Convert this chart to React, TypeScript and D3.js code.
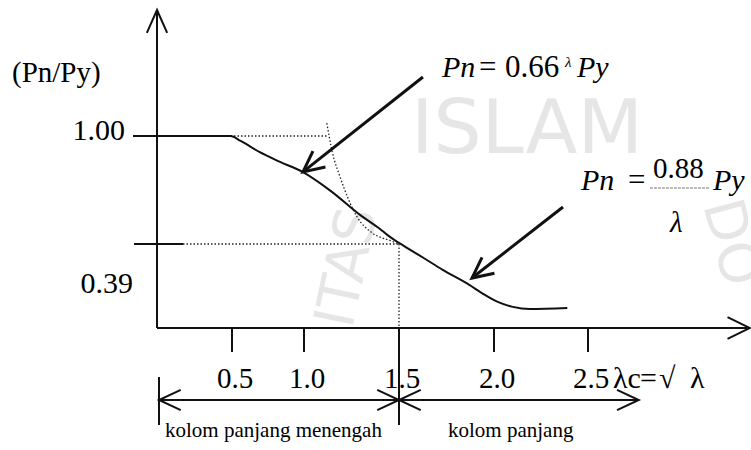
import React from 'react'
import * as d3 from 'd3'

// axis stops (lambda_c along x, Pn/Py along y)
const lambdaStops = [0, 0.5, 1.0, 1.5, 2.0, 2.5]
const ratioStops = [0, 0.39, 1.0]
const xTickValues = [0.5, 1.0, 1.5, 2.0, 2.5]
const xTickLabels = ['0.5', '1.0', '1.5', '2.0', '2.5']
const yTickLabels = ['1.00', '0.39']

// column curve (traced)
const curveLambda = [0, 0.49, 0.56, 0.69, 0.83, 0.99, 1.14, 1.3, 1.4, 1.44, 1.5, 1.63, 1.73, 1.87, 1.94, 2.02, 2.1, 2.19, 2.39]
const curveRatio = [1.0, 1.0, 0.972, 0.91, 0.855, 0.797, 0.69, 0.55, 0.475, 0.44, 0.396, 0.325, 0.27, 0.2, 0.16, 0.121, 0.098, 0.088, 0.093]

// dotted elastic curve
const eulerLambda = [1.12, 1.15, 1.19, 1.28, 1.36, 1.46, 1.5]
const eulerRatio = [1.073, 0.904, 0.768, 0.542, 0.452, 0.407, 0.39]

// annotation arrows [tail, tip] in data units
const annoTail = [[1.626, 1.333], [2.367, 0.599]]
const annoTip = [[0.993, 0.797], [1.884, 0.232]]

// ranges at the bottom
const zoneStart = [0, 1.5]
const zoneEnd = [1.5, 2.77]
const zoneLabels = ['kolom panjang menengah', 'kolom panjang']

const serif = '"Liberation Serif", "Times New Roman", serif'

function head(tx: number, ty: number, fx: number, fy: number, len = 24, spread = 25) {
  const a = Math.atan2(fy - ty, fx - tx)
  const s = (spread * Math.PI) / 180
  const p1 = [tx + len * Math.cos(a - s), ty + len * Math.sin(a - s)]
  const p2 = [tx + len * Math.cos(a + s), ty + len * Math.sin(a + s)]
  return `M${p1[0]},${p1[1]}L${tx},${ty}L${p2[0]},${p2[1]}`
}

function Watermark() {
  // faint logo text behind the chart
  const st = { fontFamily: '"DejaVu Sans", sans-serif', fontWeight: 400, fill: '#e6e6e6' }
  return (
    <g>
      <text x={527} y={153} textAnchor="middle" style={{ ...st, fontSize: 74 }} textLength={232} lengthAdjust="spacingAndGlyphs">ISLAM</text>
      <text transform="translate(352,330) rotate(-78)" style={{ ...st, fontSize: 56 }}>ITAS</text>
      <text transform="translate(703,205) rotate(75)" style={{ ...st, fontSize: 56 }}>DO</text>
    </g>
  )
}

export default function App() {
  const x = d3.scaleLinear().domain(lambdaStops).range([157, 232, 304, 399, 494, 588])
  const y = d3.scaleLinear().domain(ratioStops).range([328, 244, 136])

  const x0 = x(0)
  const y0 = y(0)

  const curve = d3.line<number>()
    .x((_, i) => x(curveLambda[i]))
    .y((_, i) => y(curveRatio[i]))
    .curve(d3.curveMonotoneX)
  const euler = d3.line<number>()
    .x((_, i) => x(eulerLambda[i]))
    .y((_, i) => y(eulerRatio[i]))
    .curve(d3.curveMonotoneX)

  const dotted = { stroke: '#222', strokeWidth: 1.3, strokeDasharray: '1.5 2', fill: 'none' }
  const ink = '#111'
  const dimY = 400
  const t = (size: number, italic = false) => ({ fontFamily: serif, fontSize: size, fontStyle: italic ? 'italic' : 'normal' })

  return (
    <svg width={751} height={450} style={{ position: 'absolute', left: 0, top: 0, background: '#fff' }}>
      <Watermark />

      {/* axes */}
      <line x1={x0} y1={10} x2={x0} y2={y0} stroke={ink} strokeWidth={2} />
      <path d={head(x0, 10, x0, 60, 25, 24)} stroke={ink} strokeWidth={2} fill="none" />
      <line x1={x0} y1={y0} x2={750} y2={y0} stroke={ink} strokeWidth={2} />
      <path d={head(750, y0, 700, y0, 25, 26)} stroke={ink} strokeWidth={2} fill="none" />

      {/* y ticks */}
      <line x1={x0 - 24} y1={y(1)} x2={x0} y2={y(1)} stroke={ink} strokeWidth={2} />
      <line x1={x0 - 23} y1={y(0.39)} x2={x0 + 26} y2={y(0.39)} stroke={ink} strokeWidth={2} />
      <line x1={x0 + 26} y1={y(0.39)} x2={x(1.5)} y2={y(0.39)} style={dotted} />
      <line x1={x(0.49)} y1={y(1)} x2={x(1.12)} y2={y(1)} style={dotted} />
      <line x1={x(1.5)} y1={y(0.39)} x2={x(1.5)} y2={y0} style={dotted} />
      <text x={125} y={140} textAnchor="end" style={t(30)}>{yTickLabels[0]}</text>
      <text x={133} y={293} textAnchor="end" style={t(30)}>{yTickLabels[1]}</text>
      <text x={12} y={82} style={t(29)}>(Pn/Py)</text>

      {/* x ticks */}
      {xTickValues.map((v, i) => (
        <g key={v}>
          <line x1={x(v)} y1={y0} x2={x(v)} y2={v === 1.5 ? 425 : 352} stroke={ink} strokeWidth={2} />
          <text x={x(v) + 3} y={388} textAnchor="middle" style={t(29)}>{xTickLabels[i]}</text>
        </g>
      ))}
      <text y={388} style={t(30)}>
        <tspan x={613}>λc</tspan>
        <tspan x={640}>=</tspan>
        <tspan x={659}>√</tspan>
        <tspan x={690}>λ</tspan>
      </text>

      {/* curves */}
      <path d={euler(eulerLambda) || ''} style={dotted} />
      <path d={curve(curveLambda) || ''} stroke={ink} strokeWidth={2} fill="none" />

      {/* annotation arrows */}
      {annoTail.map((p, i) => {
        const tx = x(annoTip[i][0]), ty = y(annoTip[i][1])
        const fx = x(p[0]), fy = y(p[1])
        return (
          <g key={i} stroke={ink} strokeWidth={3} fill="none">
            <line x1={fx} y1={fy} x2={tx} y2={ty} />
            <path d={head(tx, ty, fx, fy, 23, 26)} />
          </g>
        )
      })}

      {/* formula 1 */}
      <text x={442} y={77} style={t(30, true)}>Pn</text>
      <text x={479} y={77} style={t(31)}>=</text>
      <text x={505} y={77} style={t(31)}>0.66</text>
      <text x={565} y={67} style={t(15, true)}>λ</text>
      <text x={577} y={77} style={t(30, true)}>Py</text>

      {/* formula 2 */}
      <text x={581} y={190} style={t(30, true)}>Pn</text>
      <text x={628} y={190} style={t(31)}>=</text>
      <text x={653} y={178} style={t(29)}>0.88</text>
      <line x1={650} y1={188} x2={710} y2={188} stroke="#777" strokeWidth={1} strokeDasharray="3 1" />
      <text x={670} y={232} style={t(29, true)}>λ</text>
      <text x={713} y={190} style={t(30, true)}>Py</text>

      {/* zones */}
      <line x1={x0 + 2} y1={377} x2={x0 + 2} y2={425} stroke={ink} strokeWidth={2} />
      {zoneStart.map((s, i) => {
        const a = x(s) + (i === 0 ? 2 : 0)
        const b = x(zoneEnd[i])
        return (
          <g key={i} stroke={ink} strokeWidth={2} fill="none">
            <line x1={a} y1={dimY} x2={b} y2={dimY} />
            <path d={head(a, dimY, a + 40, dimY, 24, 25)} />
            <path d={head(b, dimY, b - 40, dimY, 24, 25)} />
          </g>
        )
      })}
      <text x={165} y={437} style={t(21)}>{zoneLabels[0]}</text>
      <text x={448} y={437} style={t(21)}>{zoneLabels[1]}</text>
    </svg>
  )
}
